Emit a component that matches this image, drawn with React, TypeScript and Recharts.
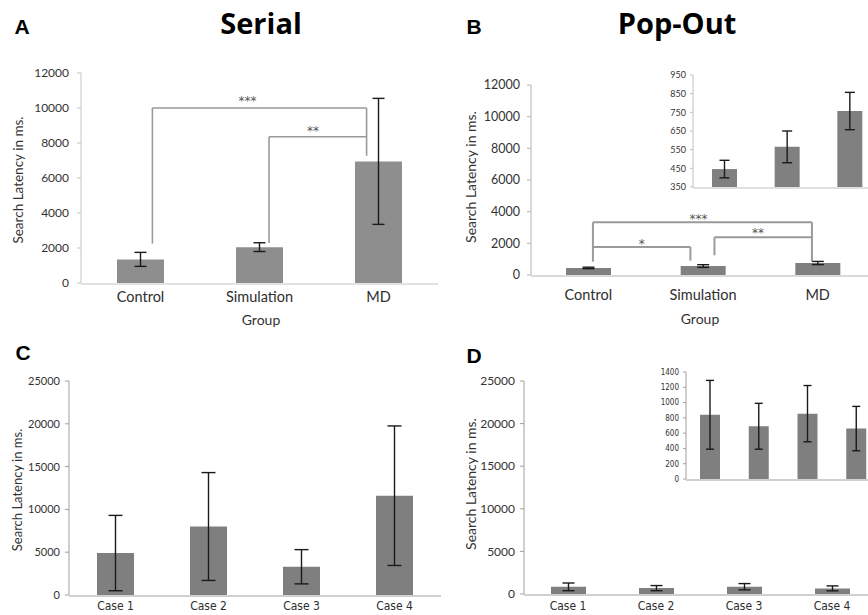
import { BarChart, Bar, XAxis, YAxis, ErrorBar, ReferenceLine, ReferenceDot } from "recharts";

// A: serial search, mean latency per group (ms) with error
const groups = ["Control", "Simulation", "MD"];
const serialMeans = [1350, 2050, 6950];
const serialErrs = [400, 250, 3600];
// B: pop-out search, same groups (main chart and inset)
const popMeans = [446, 565, 757];
const popErrs = [47, 85, 100];
// C / D: individual MD cases
const cases = ["Case 1", "Case 2", "Case 3", "Case 4"];
const caseSerialMeans = [4900, 8000, 3300, 11600];
const caseSerialErrs = [4400, 6300, 2000, 8150];
const casePopMeans = [840, 690, 855, 660];
const casePopErrs = [450, 300, 368, 290];

const groupTicks = [0, 2000, 4000, 6000, 8000, 10000, 12000];
const popInsetTicks = [350, 450, 550, 650, 750, 850, 950];
const caseTicks = [0, 5000, 10000, 15000, 20000, 25000];
const casePopInsetTicks = [0, 200, 400, 600, 800, 1000, 1200, 1400];

// significance brackets: [x1, y1, x2, y2], x in category units, y in ms
type Seg = [number, number, number, number];
type Star = { x: number; y: number; text: string };
const serialBrackets: Seg[] = [
  [0.6, 2250, 0.6, 10000],
  [0.6, 10000, 2.4, 10000],
  [2.4, 10000, 2.4, 7270],
  [1.58, 2280, 1.58, 8360],
  [1.58, 8360, 2.4, 8360],
];
const serialStars: Star[] = [
  { x: 1.4, y: 10400, text: "***" },
  { x: 1.95, y: 8690, text: "**" },
];
const popBrackets: Seg[] = [
  [0.54, 840, 0.54, 3330],
  [0.54, 3330, 2.45, 3330],
  [2.45, 3330, 2.45, 885],
  [0.54, 1770, 1.39, 1770],
  [1.39, 1770, 1.39, 905],
  [1.6, 1250, 1.6, 2385],
  [1.6, 2385, 2.45, 2385],
];
const popStars: Star[] = [
  { x: 1.46, y: 3540, text: "***" },
  { x: 0.965, y: 1960, text: "*" },
  { x: 1.98, y: 2660, text: "**" },
];

const NARROW = "'Liberation Sans Narrow', 'DejaVu Sans Condensed', sans-serif";

interface PanelProps {
  left: number;
  top: number;
  width: number;
  height: number;
  margin: { top: number; right: number; bottom: number; left: number };
  yWidth: number;
  names: string[];
  means: number[];
  errs: number[];
  domain: [number, number];
  ticks: number[];
  barSize: number;
  fill: string;
  cap: number;
  tickFont: number;
  tickFamily?: string;
  yTickSize: number;
  yTickMargin: number;
  labelFont?: number;
  labelFamily?: string;
  labelMargin?: number;
  axisColor: string;
  xTickSize: number;
  brackets?: Seg[];
  stars?: Star[];
  bracketWidth?: number;
}

function Panel(p: PanelProps) {
  // pos = centre of each category band, used by the numeric helper axis
  const data = p.names.map((name, i) => ({ name, pos: i + 0.5, mean: p.means[i], err: p.errs[i] }));
  const n = p.names.length;
  const bounds = Array.from({ length: n + 1 }, (_, i) => i);
  return (
    <div style={{ position: "absolute", left: p.left, top: p.top }}>
      <BarChart width={p.width} height={p.height} data={data} margin={p.margin}>
        <XAxis
          xAxisId="num"
          dataKey="pos"
          type="number"
          domain={[0, n]}
          ticks={bounds}
          allowDataOverflow
          height={1}
          tick={false}
          tickSize={p.xTickSize}
          stroke={p.axisColor}
        />
        <XAxis
          xAxisId="cat"
          dataKey="name"
          height={1}
          hide={!p.labelFont}
          axisLine={false}
          tickLine={false}
          tickSize={0}
          tickMargin={p.labelMargin ?? 0}
          interval={0}
          tick={{ fontSize: p.labelFont, fontFamily: p.labelFamily, fill: "#2e2e2e" }}
        />
        <YAxis
          domain={p.domain}
          ticks={p.ticks}
          width={p.yWidth}
          interval={0}
          allowDataOverflow
          tickSize={p.yTickSize}
          tickMargin={p.yTickMargin}
          stroke={p.axisColor}
          tick={{ fontSize: p.tickFont, fontFamily: p.tickFamily ?? "Lato", fill: "#333" }}
        />
        <Bar xAxisId="cat" dataKey="mean" fill={p.fill} barSize={p.barSize} isAnimationActive={false}>
          <ErrorBar dataKey="err" width={p.cap} stroke="#1a1a1a" strokeWidth={1.4} />
        </Bar>
        {(p.brackets ?? []).map((s, i) => (
          <ReferenceLine
            key={"b" + i}
            xAxisId="num"
            segment={[
              { x: s[0], y: s[1] },
              { x: s[2], y: s[3] },
            ]}
            stroke="#9a9a9a"
            strokeWidth={p.bracketWidth ?? 2}
          />
        ))}
        {(p.stars ?? []).map((s, i) => (
          <ReferenceDot
            key={"s" + i}
            xAxisId="num"
            x={s.x}
            y={s.y}
            r={0}
            fill="none"
            stroke="none"
            label={{ value: s.text, position: "center", fontSize: 12, fill: "#555", fontFamily: "'DejaVu Sans', sans-serif" }}
          />
        ))}
      </BarChart>
    </div>
  );
}

function Txt({
  x,
  y,
  size,
  bold,
  family,
  rotate,
  children,
}: {
  x: number;
  y: number;
  size: number;
  bold?: boolean;
  family?: string;
  rotate?: boolean;
  children: string;
}) {
  return (
    <div
      style={{
        position: "absolute",
        left: x,
        top: y,
        transform: `translate(-50%, -50%)${rotate ? " rotate(-90deg)" : ""}`,
        fontSize: size,
        fontWeight: bold ? 700 : 400,
        fontFamily: family ?? "Lato, sans-serif",
        whiteSpace: "nowrap",
        lineHeight: 1,
        color: bold ? "#000" : "#333",
      }}
    >
      {children}
    </div>
  );
}

export default function App() {
  return (
    <div
      style={{
        position: "absolute",
        left: 0,
        top: 0,
        width: 868,
        height: 615,
        overflow: "hidden",
        background: "#fff",
      }}
    >
      <Panel
        left={0}
        top={0}
        width={450}
        height={330}
        margin={{ top: 73, right: 12, bottom: 45, left: 0 }}
        yWidth={81}
        names={groups}
        means={serialMeans}
        errs={serialErrs}
        domain={[0, 12000]}
        ticks={groupTicks}
        barSize={47}
        fill="#8e8e8e"
        cap={6}
        tickFont={12}
        yTickSize={4}
        yTickMargin={8}
        labelFont={14.5}
        labelFamily="Lato"
        labelMargin={9}
        axisColor="#c4c4c4"
        xTickSize={4}
        brackets={serialBrackets}
        stars={serialStars}
        bracketWidth={1.6}
      />
      <Panel
        left={434}
        top={0}
        width={450}
        height={330}
        margin={{ top: 85, right: 9, bottom: 53, left: 0 }}
        yWidth={97}
        names={groups}
        means={popMeans}
        errs={popErrs}
        domain={[0, 12000]}
        ticks={groupTicks}
        barSize={45}
        fill="#808080"
        cap={6}
        tickFont={12.5}
        yTickSize={4}
        yTickMargin={7}
        labelFont={14.5}
        labelFamily="Lato"
        labelMargin={15}
        axisColor="#b4b4b4"
        xTickSize={4}
        brackets={popBrackets}
        stars={popStars}
        bracketWidth={2}
      />
      <Panel
        left={600}
        top={60}
        width={290}
        height={140}
        margin={{ top: 15, right: 9, bottom: 12, left: 0 }}
        yWidth={93}
        names={groups}
        means={popMeans}
        errs={popErrs}
        domain={[350, 950]}
        ticks={popInsetTicks}
        barSize={25}
        fill="#808080"
        cap={5}
        tickFont={9}
        yTickSize={3}
        yTickMargin={4}
        axisColor="#c0c0c0"
        xTickSize={3}
      />
      <Panel
        left={0}
        top={330}
        width={450}
        height={285}
        margin={{ top: 51, right: 9, bottom: 18, left: 0 }}
        yWidth={69}
        names={cases}
        means={caseSerialMeans}
        errs={caseSerialErrs}
        domain={[0, 25000]}
        ticks={caseTicks}
        barSize={37}
        fill="#7f7f7f"
        cap={7}
        tickFont={11}
        yTickSize={4}
        yTickMargin={5}
        labelFont={12}
        labelFamily={NARROW}
        labelMargin={6}
        axisColor="#a0a0a0"
        xTickSize={4}
      />
      <Panel
        left={434}
        top={330}
        width={450}
        height={285}
        margin={{ top: 51, right: 8, bottom: 19, left: 0 }}
        yWidth={90}
        names={cases}
        means={casePopMeans}
        errs={casePopErrs}
        domain={[0, 25000]}
        ticks={caseTicks}
        barSize={35}
        fill="#7f7f7f"
        cap={6}
        tickFont={12}
        yTickSize={4}
        yTickMargin={5}
        labelFont={12}
        labelFamily={NARROW}
        labelMargin={7}
        axisColor="#a0a0a0"
        xTickSize={4}
      />
      <Panel
        left={600}
        top={360}
        width={290}
        height={130}
        margin={{ top: 12, right: 9, bottom: 10, left: 0 }}
        yWidth={86}
        names={cases}
        means={casePopMeans}
        errs={casePopErrs}
        domain={[0, 1400]}
        ticks={casePopInsetTicks}
        barSize={20}
        fill="#7f7f7f"
        cap={4}
        tickFont={8}
        tickFamily={NARROW}
        yTickSize={3}
        yTickMargin={4}
        axisColor="#a0a0a0"
        xTickSize={3}
      />

      <Txt x={22} y={26} size={21} bold family="'Liberation Sans', Arial, sans-serif">A</Txt>
      <Txt x={474} y={26} size={21} bold family="'Liberation Sans', Arial, sans-serif">B</Txt>
      <Txt x={23} y={352} size={21} bold family="'Liberation Sans', Arial, sans-serif">C</Txt>
      <Txt x={474} y={355} size={21} bold family="'Liberation Sans', Arial, sans-serif">D</Txt>
      <Txt x={261} y={22} size={29} bold family="'Open Sans', sans-serif">Serial</Txt>
      <Txt x={677} y={22} size={29} bold family="'Open Sans', sans-serif">Pop-Out</Txt>

      <Txt x={19} y={180} size={13.5} rotate>Search Latency in ms.</Txt>
      <Txt x={471} y={177} size={14} rotate>Search Latency in ms.</Txt>
      <Txt x={17} y={490} size={13} rotate>Search Latency in ms.</Txt>
      <Txt x={471} y={484} size={14} rotate>Search Latency in ms.</Txt>
      <Txt x={261} y={320} size={14}>Group</Txt>
      <Txt x={700} y={319} size={14}>Group</Txt>
    </div>
  );
}
